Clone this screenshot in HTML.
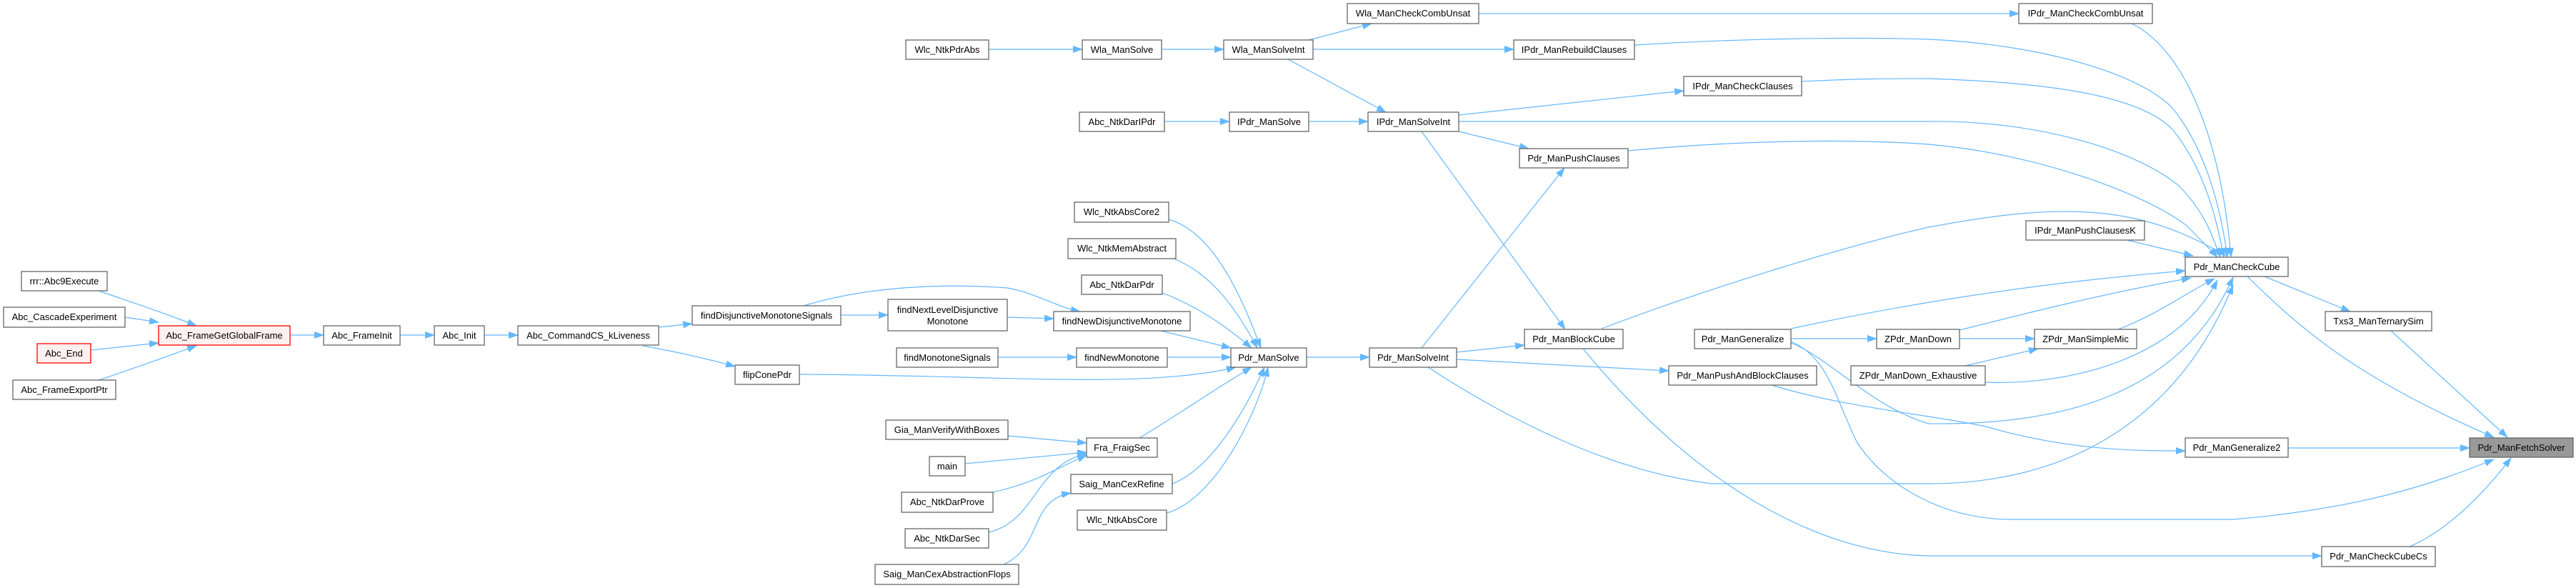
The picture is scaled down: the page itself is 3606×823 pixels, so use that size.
<!DOCTYPE html>
<html><head><meta charset="utf-8"><style>
html,body{margin:0;padding:0;background:#fff;}
svg{display:block;}
text{font-family:"Liberation Sans",Arial,sans-serif;font-size:13px;fill:#000;text-anchor:middle;}
.n{fill:#fff;stroke:#666;stroke-width:1.3;}
.r{fill:#fff0f0;stroke:#ff0000;stroke-width:1.3;}
.g{fill:#999;stroke:#666;stroke-width:1.3;}
path{fill:none;stroke:#63b8ff;stroke-width:1.2;marker-end:url(#a);}
</style></head><body>
<svg width="3606" height="823" viewBox="0 0 3606 823" xmlns="http://www.w3.org/2000/svg">
<defs><marker id="a" markerUnits="userSpaceOnUse" markerWidth="14" markerHeight="10" refX="13" refY="5" orient="auto"><polygon points="0,0 14,5 0,10" fill="#63b8ff"/></marker></defs>
<!-- edges -->
<path d="M138,407 C190,425 230,438 275,456"/>
<path d="M175,444 L222,451"/>
<path d="M127,490 L222,480"/>
<path d="M138,532 C190,515 230,500 275,484"/>
<path d="M406,469 L453,469"/>
<path d="M560,469 L608,469"/>
<path d="M678,469 L725,469"/>
<path d="M922,458 L969,453"/>
<path d="M900,484 C950,493 990,502 1029,513"/>
<path d="M1177,441 L1243,441"/>
<path d="M1125,428 C1200,405 1300,395 1410,403 C1450,410 1480,430 1512,436"/>
<path d="M1410,444 L1475,446"/>
<path d="M1397,500 L1507,500"/>
<path d="M1634,500 L1723,500"/>
<path d="M1625,463 L1723,487"/>
<path d="M1119,524 C1400,525 1600,545 1730,514"/>
<path d="M1636,307 C1700,325 1740,420 1765,487"/>
<path d="M1643,362 C1700,385 1735,440 1760,487"/>
<path d="M1627,410 C1680,430 1720,460 1752,487"/>
<path d="M1595,613 C1650,580 1700,545 1752,514"/>
<path d="M1641,677 C1700,655 1750,560 1770,514"/>
<path d="M1633,718 C1700,700 1760,580 1775,514"/>
<path d="M1411,610 L1521,620"/>
<path d="M1351,649 L1521,633"/>
<path d="M1390,689 C1450,675 1470,660 1521,637"/>
<path d="M1384,745 C1450,730 1450,650 1521,635"/>
<path d="M1405,790 C1460,765 1440,700 1499,690"/>
<path d="M1384,69 L1515,69"/>
<path d="M1626,69 L1713,69"/>
<path d="M1630,170 L1721,170"/>
<path d="M1832,170 L1915,170"/>
<path d="M1829,500 L1917,500"/>
<path d="M1832,56 L1920,33"/>
<path d="M1838,69 L2119,69"/>
<path d="M1803,83 L1940,157"/>
<path d="M2042,161 L2357,127"/>
<path d="M2042,184 L2140,208"/>
<path d="M1990,184 L2191,461"/>
<path d="M1990,487 L2190,235"/>
<path d="M2039,493 L2134,483"/>
<path d="M2039,503 L2336,519"/>
<path d="M1999,514 C2100,580 2250,660 2397,677 L2700,677 C2868,677 3040,610 3126,399"/>
<path d="M2480,539 C2580,570 2700,580 2780,597 C2900,632 3000,631 3059,631"/>
<path d="M2507,480 C2560,500 2620,570 2700,593 C2873,595 3050,560 3126,388"/>
<path d="M2507,478 C2560,500 2570,560 2600,620 C2640,680 2720,727 2816,727 L3127,727 C3300,712 3400,680 3491,643"/>
<path d="M2216,488 C2374,680 2546,775 2700,778 L3250,778"/>
<path d="M2242,460 C2400,400 2600,340 2700,318 C2900,280 3000,290 3116,358"/>
<path d="M2507,474 L2627,474"/>
<path d="M2507,460 C2600,440 2800,400 3059,379"/>
<path d="M2743,462 C2850,435 2950,410 3067,389"/>
<path d="M2743,474 L2848,474"/>
<path d="M2751,512 L2853,488"/>
<path d="M2779,535 C2900,540 3050,500 3104,392"/>
<path d="M2965,461 C3020,440 3060,410 3100,390"/>
<path d="M2977,336 L3070,358"/>
<path d="M3170,387 L3290,436"/>
<path d="M3146,387 C3220,460 3300,530 3491,612"/>
<path d="M3347,463 L3510,612"/>
<path d="M3203,627 L3457,627"/>
<path d="M3373,765 C3420,745 3470,700 3515,641"/>
<path d="M2984,33 C3060,70 3110,200 3123,360"/>
<path d="M2070,19 L2826,19"/>
<path d="M2288,63 C2450,53 2600,52 2700,55 C2850,62 2990,100 3040,150 C3090,210 3110,300 3118,360"/>
<path d="M2522,114 C2600,110 2650,110 2700,110 C2850,115 2990,130 3040,180 C3090,240 3105,320 3113,360"/>
<path d="M2042,170 L2700,170 C2850,168 2990,210 3050,260 C3090,300 3100,340 3108,360"/>
<path d="M2279,211 C2450,195 2600,195 2700,202 C2850,215 3000,270 3060,315 C3080,335 3095,350 3104,360"/>
<!-- nodes -->
<g>
<rect class="n" x="30" y="380" width="120" height="27"/><text x="90" y="398">rrr::Abc9Execute</text>
<rect class="n" x="5" y="430" width="170" height="28"/><text x="90" y="448">Abc_CascadeExperiment</text>
<rect class="r" x="52" y="481" width="75" height="27"/><text x="89.5" y="499">Abc_End</text>
<rect class="n" x="18" y="532" width="144" height="27"/><text x="90" y="550">Abc_FrameExportPtr</text>
<rect class="r" x="222" y="456" width="184" height="27"/><text x="314" y="474">Abc_FrameGetGlobalFrame</text>
<rect class="n" x="453" y="456" width="107" height="27"/><text x="506.5" y="474">Abc_FrameInit</text>
<rect class="n" x="608" y="456" width="70" height="27"/><text x="643" y="474">Abc_Init</text>
<rect class="n" x="725" y="456" width="197" height="27"/><text x="823.5" y="474">Abc_CommandCS_kLiveness</text>
<rect class="n" x="969" y="428" width="208" height="27"/><text x="1073" y="446">findDisjunctiveMonotoneSignals</text>
<rect class="n" x="1243" y="419" width="167" height="44"/><text x="1326.5" y="438">findNextLevelDisjunctive</text><text x="1326.5" y="454">Monotone</text>
<rect class="n" x="1475" y="436" width="191" height="27"/><text x="1570.5" y="454">findNewDisjunctiveMonotone</text>
<rect class="n" x="1255" y="487" width="142" height="27"/><text x="1326" y="505">findMonotoneSignals</text>
<rect class="n" x="1507" y="487" width="127" height="27"/><text x="1570.5" y="505">findNewMonotone</text>
<rect class="n" x="1723" y="487" width="106" height="27"/><text x="1776" y="505">Pdr_ManSolve</text>
<rect class="n" x="1029" y="511" width="90" height="27"/><text x="1074" y="529">flipConePdr</text>
<rect class="n" x="1240" y="588" width="171" height="27"/><text x="1325.5" y="606">Gia_ManVerifyWithBoxes</text>
<rect class="n" x="1521" y="613" width="99" height="27"/><text x="1570.5" y="631">Fra_FraigSec</text>
<rect class="n" x="1301" y="639" width="50" height="27"/><text x="1326" y="657">main</text>
<rect class="n" x="1499" y="664" width="142" height="27"/><text x="1570" y="682">Saig_ManCexRefine</text>
<rect class="n" x="1262" y="689" width="128" height="28"/><text x="1326" y="707">Abc_NtkDarProve</text>
<rect class="n" x="1508" y="714" width="125" height="28"/><text x="1570.5" y="732">Wlc_NtkAbsCore</text>
<rect class="n" x="1267" y="740" width="117" height="27"/><text x="1325.5" y="758">Abc_NtkDarSec</text>
<rect class="n" x="1225" y="790" width="201" height="28"/><text x="1325.5" y="808">Saig_ManCexAbstractionFlops</text>
<rect class="n" x="1268" y="56" width="116" height="27"/><text x="1326" y="74">Wlc_NtkPdrAbs</text>
<rect class="n" x="1515" y="56" width="111" height="27"/><text x="1570.5" y="74">Wla_ManSolve</text>
<rect class="n" x="1713" y="56" width="125" height="27"/><text x="1775.5" y="74">Wla_ManSolveInt</text>
<rect class="n" x="1511" y="157" width="119" height="27"/><text x="1570.5" y="175">Abc_NtkDarIPdr</text>
<rect class="n" x="1721" y="157" width="111" height="27"/><text x="1776.5" y="175">IPdr_ManSolve</text>
<rect class="n" x="1504" y="283" width="132" height="28"/><text x="1570" y="301">Wlc_NtkAbsCore2</text>
<rect class="n" x="1495" y="334" width="151" height="28"/><text x="1570.5" y="352">Wlc_NtkMemAbstract</text>
<rect class="n" x="1514" y="385" width="113" height="27"/><text x="1570.5" y="403">Abc_NtkDarPdr</text>
<rect class="n" x="1886" y="5" width="184" height="28"/><text x="1978" y="23">Wla_ManCheckCombUnsat</text>
<rect class="n" x="2119" y="56" width="169" height="27"/><text x="2203.5" y="74">IPdr_ManRebuildClauses</text>
<rect class="n" x="2357" y="107" width="165" height="27"/><text x="2439.5" y="125">IPdr_ManCheckClauses</text>
<rect class="n" x="1915" y="157" width="127" height="27"/><text x="1978.5" y="175">IPdr_ManSolveInt</text>
<rect class="n" x="2127" y="208" width="152" height="27"/><text x="2203" y="226">Pdr_ManPushClauses</text>
<rect class="n" x="2134" y="461" width="138" height="27"/><text x="2203" y="479">Pdr_ManBlockCube</text>
<rect class="n" x="2372" y="461" width="135" height="27"/><text x="2439.5" y="479">Pdr_ManGeneralize</text>
<rect class="n" x="1917" y="487" width="122" height="27"/><text x="1978" y="505">Pdr_ManSolveInt</text>
<rect class="n" x="2336" y="512" width="207" height="27"/><text x="2439.5" y="530">Pdr_ManPushAndBlockClauses</text>
<rect class="n" x="2627" y="461" width="116" height="27"/><text x="2685" y="479">ZPdr_ManDown</text>
<rect class="n" x="2591" y="512" width="188" height="27"/><text x="2685" y="530">ZPdr_ManDown_Exhaustive</text>
<rect class="n" x="2826" y="5" width="187" height="28"/><text x="2919.5" y="23">IPdr_ManCheckCombUnsat</text>
<rect class="n" x="2836" y="309" width="166" height="27"/><text x="2919" y="327">IPdr_ManPushClausesK</text>
<rect class="n" x="3059" y="360" width="144" height="27"/><text x="3131" y="378">Pdr_ManCheckCube</text>
<rect class="n" x="3255" y="436" width="149" height="27"/><text x="3329.5" y="454">Txs3_ManTernarySim</text>
<rect class="n" x="2848" y="461" width="143" height="27"/><text x="2919.5" y="479">ZPdr_ManSimpleMic</text>
<rect class="n" x="3059" y="613" width="144" height="27"/><text x="3131" y="631">Pdr_ManGeneralize2</text>
<rect class="g" x="3457" y="613" width="145" height="27"/><text x="3529.5" y="631">Pdr_ManFetchSolver</text>
<rect class="n" x="3250" y="765" width="159" height="28"/><text x="3329.5" y="783">Pdr_ManCheckCubeCs</text>
</g>
</svg>
</body></html>
